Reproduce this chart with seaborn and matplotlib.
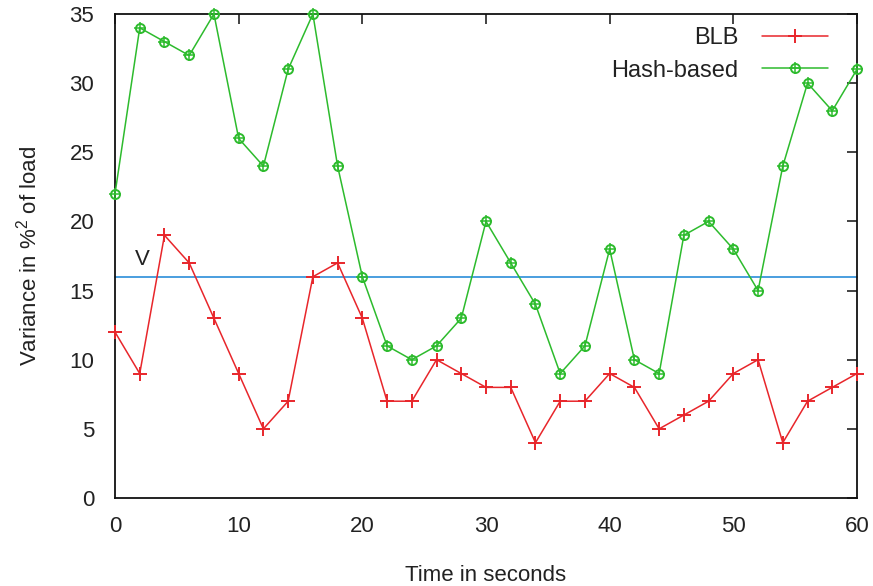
import matplotlib
matplotlib.use("Agg")
import matplotlib.pyplot as plt
import seaborn as sns
import pandas as pd
from matplotlib.legend_handler import HandlerTuple
from matplotlib.lines import Line2D

time_s = [0, 2, 4, 6, 8, 10, 12, 14, 16, 18, 20, 22, 24, 26, 28, 30,
          32, 34, 36, 38, 40, 42, 44, 46, 48, 50, 52, 54, 56, 58, 60]
blb = [12, 9, 19, 17, 13, 9, 5, 7, 16, 17, 13, 7, 7, 10, 9, 8,
       8, 4, 7, 7, 9, 8, 5, 6, 7, 9, 10, 4, 7, 8, 9]
hash_based = [22, 34, 33, 32, 35, 26, 24, 31, 35, 24, 16, 11, 10, 11, 13, 20,
              17, 14, 9, 11, 18, 10, 9, 19, 20, 18, 15, 24, 30, 28, 31]
threshold_v = 16
x_ticks = [0, 10, 20, 30, 40, 50, 60]
y_ticks = [0, 5, 10, 15, 20, 25, 30, 35]

RED = "#e8262b"
GREEN = "#2dbb2d"
BLUE = "#3a96dc"
FS = 16

sns.set_style("white")
plt.rcParams["font.family"] = ["Liberation Sans", "DejaVu Sans"]
plt.rcParams["mathtext.fontset"] = "custom"
plt.rcParams["mathtext.rm"] = "Liberation Sans"

df = pd.DataFrame({"t": time_s, "blb": blb, "hash": hash_based})

fig = plt.figure(figsize=(8.73, 5.86), dpi=100)
ax = fig.add_axes([115 / 873, 1 - 498 / 586, (857 - 115) / 873, (498 - 14) / 586])

ax.axhline(threshold_v, color=BLUE, lw=1.3, zorder=1)
ax.text(1.6, 16.5, "V", fontsize=FS, color="#222222", ha="left", va="bottom")

sns.lineplot(data=df, x="t", y="blb", ax=ax, color=RED, lw=1.1,
             marker="+", markersize=10, markeredgewidth=1.4, markeredgecolor=RED,
             zorder=3)
sns.lineplot(data=df, x="t", y="hash", ax=ax, color=GREEN, lw=1.1,
             marker="o", markersize=6.5, markerfacecolor="none",
             markeredgewidth=1.4, markeredgecolor=GREEN, zorder=3)
ax.plot(df["t"], df["hash"], ls="none", marker="+", markersize=9,
        markeredgewidth=1.1, color=GREEN, zorder=4)
for ln in ax.lines:
    ln.set_clip_on(False)

ax.set_xlim(0, 60)
ax.set_ylim(0, 35)
ax.set_xticks(x_ticks)
ax.set_yticks(y_ticks)
ax.tick_params(direction="in", length=7, width=1.2, top=True, right=True,
               labelsize=FS, colors="#222222")
ax.tick_params(axis="x", pad=13)
ax.tick_params(axis="y", pad=15)
for s in ax.spines.values():
    s.set_visible(True)
    s.set_color("#111111")
    s.set_linewidth(1.3)

ax.set_xlabel("Time in seconds", fontsize=FS, color="#222222", labelpad=20)
ax.set_ylabel("Variance in %$^{2}$ of load", fontsize=FS, color="#222222", labelpad=20)

h_blb = Line2D([], [], color=RED, lw=1.1, marker="+", markersize=10, markeredgewidth=1.4)
h_hash_o = Line2D([], [], color=GREEN, lw=1.1, marker="o", markersize=6.5,
                  markerfacecolor="none", markeredgewidth=1.4)
h_hash_p = Line2D([], [], color=GREEN, lw=0, marker="+", markersize=9, markeredgewidth=1.1)
leg = ax.legend([h_blb, (h_hash_o, h_hash_p)], ["BLB", "Hash-based"],
                handler_map={tuple: HandlerTuple(ndivide=1, pad=0)},
                loc="upper right", bbox_to_anchor=(0.99, 1.017), frameon=False,
                fontsize=17, markerfirst=False, handlelength=2.8,
                handletextpad=1.0, labelspacing=0.45)
for t in leg.get_texts():
    t.set_color("#222222")

fig.savefig("out.png", dpi=100)
